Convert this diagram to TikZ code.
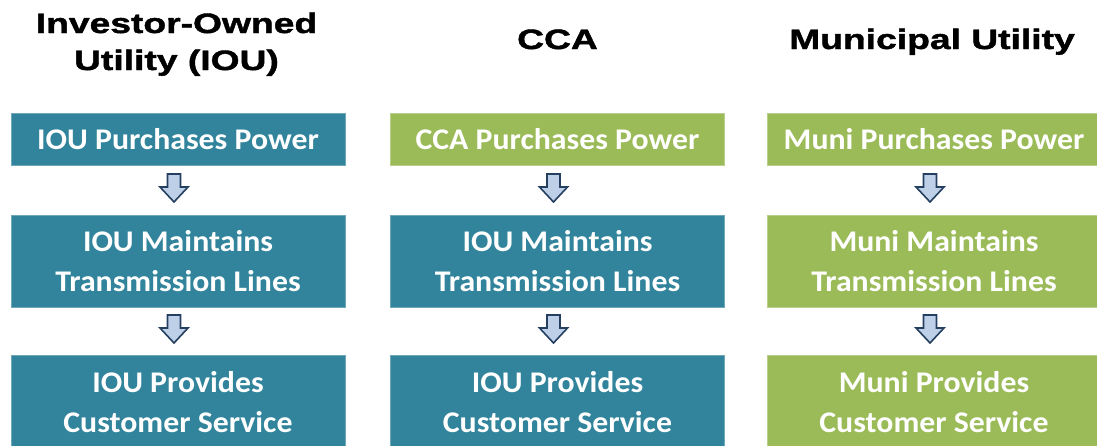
\documentclass[tikz,border=0pt]{standalone}
\usepackage{fontspec}
\usetikzlibrary{calc}
\newfontfamily\boxfont{Carlito}[FakeStretch=1.06]
\newfontfamily\titlefont{Liberation Sans}[FakeStretch=1.33, BoldFeatures={FakeBold=1.5}]
\definecolor{teal1}{RGB}{49,132,155}
\definecolor{green1}{RGB}{155,187,89}
\definecolor{arrfill}{RGB}{190,208,232}
\definecolor{arrline}{RGB}{36,63,96}
\tikzset{
  title/.style={anchor=base, align=center, inner sep=0, font=\titlefont\bfseries\fontsize{28}{37}\selectfont},
  stepbox/.style={rectangle, minimum width=334pt, inner sep=0, text=white, align=center,
    font=\boxfont\bfseries\fontsize{30}{40}\selectfont},
  iou/.style={stepbox, fill=teal1, draw=teal1!70!white, line width=0.8pt},
  muni/.style={stepbox, fill=green1, draw=green1!70!white, line width=0.8pt},
  blk/.style={fill=arrfill, draw=arrline, line width=1.6pt, line join=miter},
}
\newcommand{\blockarrow}[2]{%
  \coordinate (m) at ($(#1.south)!0.5!(#2.north)+(-4,-2)$);
  \draw[blk] ($(m)+(-6.5,-14)$) -- ++(13,0) -- ++(0,13) -- ++(7.5,0) -- ($(m)+(0,14)$)
     -- ($(m)+(-14,-1)$) -- ++(7.5,0) -- cycle;}
\begin{document}
\begin{tikzpicture}[x=1pt,y=-1pt]
\useasboundingbox (0,0) rectangle (1097,445);
\clip (0,0) rectangle (1097,445);
% titles
\node[title] (t1) at (176.5,70) {Investor-Owned\\Utility (IOU)};
\node[title] (t2) at (557.5,49) {CCA};
\node[title] (t3) at (932,49) {Municipal Utility};
% column 1
\node[iou, minimum height=52pt] (a1) at (178,139) {IOU Purchases Power};
\node[iou, minimum height=92pt] (a2) at (178,261) {IOU Maintains\\Transmission Lines};
\node[iou, minimum height=94pt] (a3) at (178,402) {IOU Provides\\Customer Service};
% column 2
\node[muni, minimum height=52pt] (b1) at (557.5,139) {CCA Purchases Power};
\node[iou, minimum height=92pt] (b2) at (557.5,261) {IOU Maintains\\Transmission Lines};
\node[iou, minimum height=94pt] (b3) at (557.5,402) {IOU Provides\\Customer Service};
% column 3
\node[muni, minimum height=52pt] (c1) at (934,139) {Muni Purchases Power};
\node[muni, minimum height=92pt] (c2) at (934,261) {Muni Maintains\\Transmission Lines};
\node[muni, minimum height=94pt] (c3) at (934,402) {Muni Provides\\Customer Service};
% arrows
\blockarrow{a1}{a2}
\blockarrow{a2}{a3}
\blockarrow{b1}{b2}
\blockarrow{b2}{b3}
\blockarrow{c1}{c2}
\blockarrow{c2}{c3}
\end{tikzpicture}
\end{document}
